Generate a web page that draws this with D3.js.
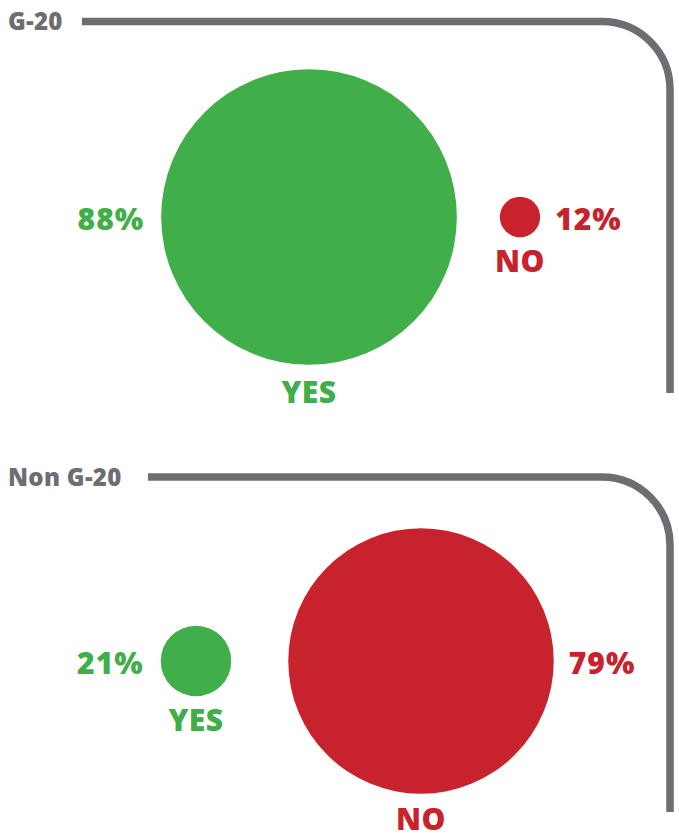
<!DOCTYPE html>
<html lang="en">
<head>
    <meta charset="UTF-8">
    <title>G-20 vs Non G-20</title>
    <script src="https://cdn.jsdelivr.net/npm/d3@7"></script>
    <style>
        body { margin: 0; background: #fff; }
        text { font-family: "Open Sans", "Noto Sans", sans-serif; font-weight: 800; }
    </style>
</head>
<body>
<div id="graphDiv"></div>
<script>
    // data
    var groups = ["G-20", "Non G-20"];
    var answers = ["YES", "NO"];
    var yesValues = [88, 21];
    var noValues = [12, 79];

    var green = "#40ae49";
    var red = "#c8232c";
    var grey = "#6d6e71";

    var w0 = 679, h0 = 834;
    var svg = d3.select("#graphDiv").append("svg")
        .attr("width", w0)
        .attr("height", h0);

    // radius proportional to the share
    var r = d3.scaleLinear().domain([0, 100]).range([0, 168]);

    // layout of each panel (frame top, where the frame line starts, circle centres)
    var layout = [
        {top: 21.5, lineStart: 82, bottom: 393, cy: 217, yesX: 309, noX: 520},
        {top: 477, lineStart: 148, bottom: 812, cy: 661, yesX: 196, noX: 421}
    ];

    groups.forEach(function (g, i) {
        var L = layout[i];
        var gEl = svg.append("g");
        var xr = 670, rad = 68;

        // frame line
        var path = d3.path();
        path.moveTo(L.lineStart, L.top);
        path.lineTo(xr - rad, L.top);
        path.arcTo(xr, L.top, xr, L.top + rad, rad);
        path.lineTo(xr, L.bottom);
        gEl.append("path")
            .attr("d", path.toString())
            .attr("fill", "none")
            .attr("stroke", grey)
            .attr("stroke-width", 7.5);

        gEl.append("text")
            .attr("x", 8)
            .attr("y", L.top + 8.5)
            .attr("fill", grey)
            .style("font-size", "24px")
            .style("letter-spacing", "0.3px")
            .text(g);

        var items = [
            {answer: answers[0], value: yesValues[i], x: L.yesX, color: green},
            {answer: answers[1], value: noValues[i], x: L.noX, color: red}
        ];
        items.forEach(function (d) {
            var rr = r(d.value);
            gEl.append("circle")
                .attr("cx", d.x)
                .attr("cy", L.cy)
                .attr("r", rr)
                .attr("fill", d.color);

            var left = d.answer === "YES";
            gEl.append("text")
                .attr("x", left ? d.x - rr - 17 : d.x + rr + 15)
                .attr("y", L.cy + 13)
                .attr("text-anchor", left ? "end" : "start")
                .attr("fill", d.color)
                .style("font-size", "30px")
                .style("letter-spacing", "1px")
                .text(d.value + "%");

            gEl.append("text")
                .attr("x", d.x)
                .attr("y", Math.min(L.cy + rr + (rr > 60 ? 38 : 35), h0 - 4))
                .attr("text-anchor", "middle")
                .attr("fill", d.color)
                .style("font-size", "30px")
                .style("letter-spacing", "0.5px")
                .text(d.answer);
        });
    });
</script>
</body>
</html>
